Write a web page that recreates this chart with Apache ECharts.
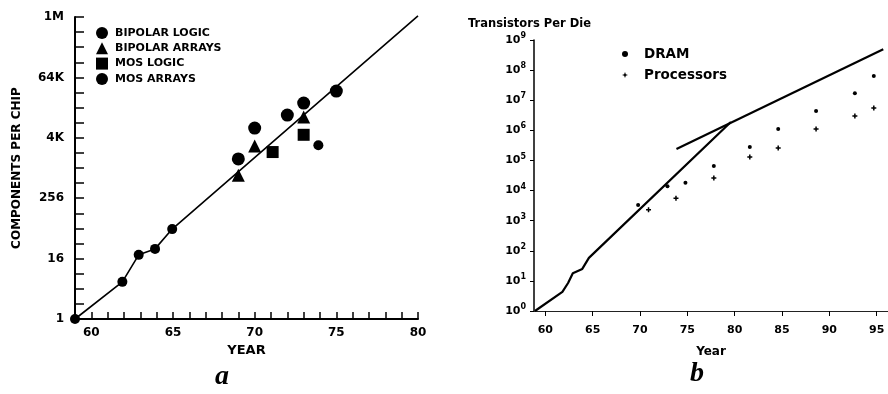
<!DOCTYPE html>
<html><head><meta charset="utf-8">
<script src="https://cdn.jsdelivr.net/npm/echarts@6/dist/echarts.min.js"></script>
<style>html,body{margin:0;padding:0;background:#fff}#c{width:888px;height:394px}</style>
</head><body><div id="c"></div>
<script>
// ---------- Panel a ----------
const leftYearTicks = [60, 65, 70, 75, 80];
const leftValueTickLabels = ['1', '16', '256', '4K', '64K', '1M'];
const leftTrendYears = [59, 61.9, 62.9, 63.9, 64.95, 80];
const leftTrendValues = [1, 5.5, 19, 25, 62, 1100000];
const bipolarLogicYears = [59, 61.9, 62.9, 63.9, 64.95, 73.9];
const bipolarLogicValues = [1, 5.5, 19, 25, 62, 2900];
const bipolarArraysYears = [69, 70, 73];
const bipolarArraysValues = [730, 2800, 10600];
const mosLogicYears = [71.1, 73];
const mosLogicValues = [2130, 4700];
const mosArraysYears = [69, 70, 72, 73, 75];
const mosArraysValues = [1550, 6400, 11600, 20200, 35000];

// ---------- Panel b ----------
const rightYearTicks = [60, 65, 70, 75, 80, 85, 90, 95];
const rightExponents = [0, 1, 2, 3, 4, 5, 6, 7, 8, 9];
const earlyTrendYears = [58.9, 61.8, 62.4, 62.9, 63.9, 64.6, 79.6];
const earlyTrendValues = [1, 4.3, 8.5, 18, 25, 58, 1900000];
const lateTrendYears = [73.85, 95.7];
const lateTrendValues = [240000, 490000000];
const dramYears = [69.8, 72.9, 74.8, 77.8, 81.6, 84.6, 88.6, 92.7, 94.7];
const dramValues = [3300, 14000, 18000, 66000, 280000, 1100000, 4400000, 17000000, 64000000];
const procYears = [70.9, 73.8, 77.8, 81.6, 84.6, 88.6, 92.7, 94.7];
const procValues = [2300, 5600, 26000, 130000, 260000, 1100000, 3000000, 5500000];

const FONT = 'DejaVu Sans';
const pair = (xs, ys, f) => xs.map((x, i) => [x, f(ys[i])]);
const plusPath = 'path://M3.5,0h3v3.5h3.5v3h-3.5v3.5h-3v-3.5h-3.5v-3h3.5z';
const starPath = 'path://M5,0L6.4,3.6L10,5L6.4,6.4L5,10L3.6,6.4L0,5L3.6,3.6Z';
const bold = (size) => ({ fontFamily: FONT, fontSize: size, fontWeight: 'bold', color: '#000' });
const black = { color: '#000', opacity: 1 };

const chart = echarts.init(document.getElementById('c'), null, { renderer: 'canvas' });
chart.setOption({
  animation: false,
  backgroundColor: '#fff',
  title: [{ text: 'Transistors Per Die', left: 463, top: 13, textStyle: bold(11.5) }],
  legend: [
    {
      data: [
        { name: 'BIPOLAR LOGIC', icon: 'circle' },
        { name: 'BIPOLAR ARRAYS', icon: 'triangle' },
        { name: 'MOS LOGIC', icon: 'rect' },
        { name: 'MOS ARRAYS', icon: 'circle' }
      ],
      orient: 'vertical', left: 96, top: 27, itemWidth: 12, itemHeight: 12, itemGap: 3.3,
      selectedMode: false, padding: 0, itemStyle: black,
      textStyle: Object.assign(bold(11), { lineHeight: 12, padding: [0, 0, 0, 2] })
    },
    {
      data: [
        { name: 'DRAM', icon: 'circle' },
        { name: 'Processors', icon: starPath }
      ],
      orient: 'vertical', left: 622, top: 46, itemWidth: 6, itemHeight: 6, itemGap: 5,
      selectedMode: false, padding: 0, itemStyle: black,
      textStyle: Object.assign(bold(13.5), { lineHeight: 16, padding: [0, 0, 0, 11] })
    }
  ],
  grid: [
    { left: 75, top: 17, width: 343, height: 302 },
    { left: 534, top: 40, width: 354, height: 271 }
  ],
  xAxis: [
    {
      gridIndex: 0, type: 'value', min: 59, max: 80, interval: 1,
      axisLine: { lineStyle: { color: '#000', width: 2 } },
      axisTick: { inside: true, length: 7, lineStyle: { color: '#000', width: 1.5 } },
      axisLabel: Object.assign(bold(12), {
        margin: 8,
        formatter: v => (leftYearTicks.indexOf(v) >= 0 ? String(v) : '')
      }),
      splitLine: { show: false },
      name: 'YEAR', nameLocation: 'middle', nameGap: 21, nameTextStyle: bold(13)
    },
    {
      gridIndex: 1, type: 'value', min: 58.8, max: 96.2,
      axisLine: { lineStyle: { color: '#222', width: 1 } },
      axisTick: { customValues: rightYearTicks, length: 5, lineStyle: { color: '#000', width: 1 } },
      axisLabel: Object.assign(bold(11), { customValues: rightYearTicks, margin: 14 }),
      splitLine: { show: false },
      name: 'Year', nameLocation: 'middle', nameGap: 35, nameTextStyle: bold(12)
    }
  ],
  yAxis: [
    {
      gridIndex: 0, type: 'value', min: 0, max: 20, interval: 1,
      axisLine: { lineStyle: { color: '#000', width: 2 } },
      axisTick: { inside: true, length: 9, lineStyle: { color: '#000', width: 1.5 } },
      axisLabel: Object.assign(bold(12), {
        margin: 11,
        formatter: v => (v % 4 === 0 ? leftValueTickLabels[v / 4] : '')
      }),
      splitLine: { show: false },
      name: 'COMPONENTS PER CHIP', nameLocation: 'middle', nameGap: 52, nameTextStyle: bold(12)
    },
    {
      gridIndex: 1, type: 'value', min: 0, max: 9, interval: 1,
      axisLine: { lineStyle: { color: '#000', width: 1.5 } },
      axisTick: { length: 4, lineStyle: { color: '#000', width: 1 } },
      axisLabel: {
        margin: 8,
        formatter: v => '{b|10}{s|' + rightExponents[v] + '}',
        rich: {
          b: Object.assign(bold(11), { lineHeight: 16 }),
          s: Object.assign(bold(8), { lineHeight: 8, verticalAlign: 'top' })
        }
      },
      splitLine: { show: false }
    }
  ],
  series: [
    {
      name: 'trendA', type: 'line', xAxisIndex: 0, yAxisIndex: 0, clip: false,
      data: pair(leftTrendYears, leftTrendValues, Math.log2),
      symbol: 'none', lineStyle: { color: '#000', width: 1.6 }, z: 2
    },
    {
      name: 'BIPOLAR LOGIC', type: 'scatter', xAxisIndex: 0, yAxisIndex: 0, clip: false,
      data: pair(bipolarLogicYears, bipolarLogicValues, Math.log2),
      symbol: 'circle', symbolSize: 10, itemStyle: black, z: 3
    },
    {
      name: 'BIPOLAR ARRAYS', type: 'scatter', xAxisIndex: 0, yAxisIndex: 0,
      data: pair(bipolarArraysYears, bipolarArraysValues, Math.log2),
      symbol: 'triangle', symbolSize: 13, itemStyle: black, z: 3
    },
    {
      name: 'MOS LOGIC', type: 'scatter', xAxisIndex: 0, yAxisIndex: 0,
      data: pair(mosLogicYears, mosLogicValues, Math.log2),
      symbol: 'rect', symbolSize: 12, itemStyle: black, z: 3
    },
    {
      name: 'MOS ARRAYS', type: 'scatter', xAxisIndex: 0, yAxisIndex: 0,
      data: pair(mosArraysYears, mosArraysValues, Math.log2),
      symbol: 'circle', symbolSize: 13, itemStyle: black, z: 3
    },
    {
      name: 'trendB1', type: 'line', xAxisIndex: 1, yAxisIndex: 1, clip: false,
      data: pair(earlyTrendYears, earlyTrendValues, Math.log10),
      symbol: 'none', lineStyle: { color: '#000', width: 2.2 }, z: 2
    },
    {
      name: 'trendB2', type: 'line', xAxisIndex: 1, yAxisIndex: 1, clip: false,
      data: pair(lateTrendYears, lateTrendValues, Math.log10),
      symbol: 'none', lineStyle: { color: '#000', width: 2.2 }, z: 2
    },
    {
      name: 'DRAM', type: 'scatter', xAxisIndex: 1, yAxisIndex: 1,
      data: pair(dramYears, dramValues, Math.log10),
      symbol: 'circle', symbolSize: 4, itemStyle: black, z: 3
    },
    {
      name: 'Processors', type: 'scatter', xAxisIndex: 1, yAxisIndex: 1,
      data: pair(procYears, procValues, Math.log10),
      symbol: plusPath, symbolSize: 5, itemStyle: black, z: 3
    }
  ],
  graphic: [
    { type: 'text', x: 222, y: 377, style: { text: 'a', font: 'italic bold 28px "Liberation Serif"', fill: '#000', align: 'center', verticalAlign: 'middle', textAlign: 'center', textVerticalAlign: 'middle' } },
    { type: 'text', x: 697, y: 374, style: { text: 'b', font: 'italic bold 28px "Liberation Serif"', fill: '#000', align: 'center', verticalAlign: 'middle', textAlign: 'center', textVerticalAlign: 'middle' } }
  ]
});
</script>
</body></html>
